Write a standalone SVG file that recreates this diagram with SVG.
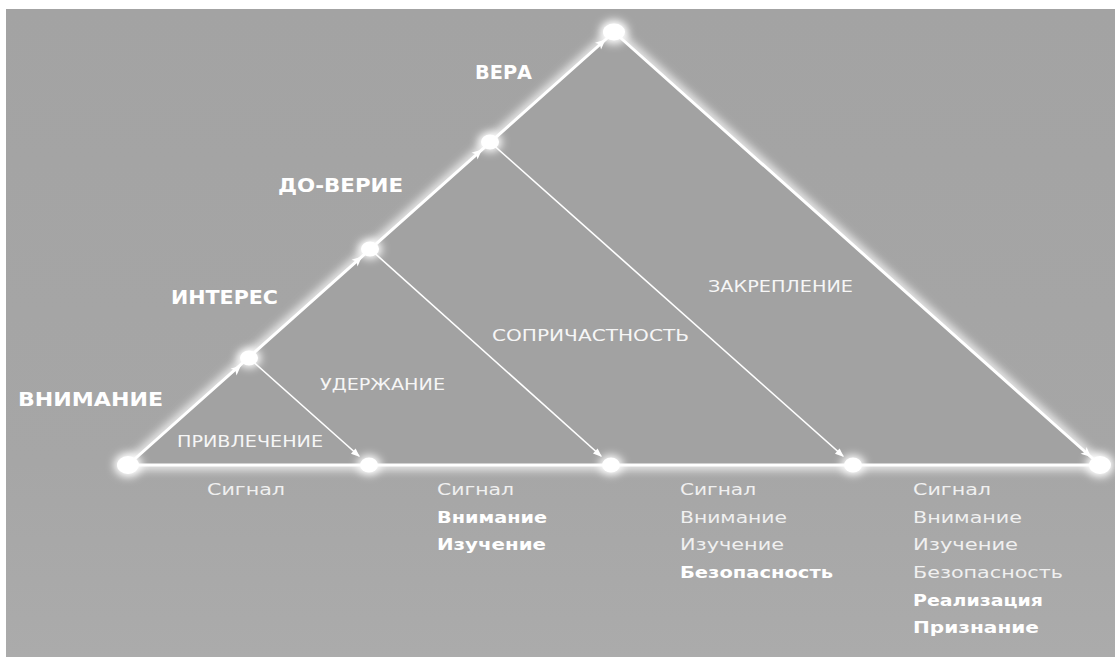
<svg xmlns="http://www.w3.org/2000/svg" xmlns:xlink="http://www.w3.org/1999/xlink" width="1115" height="657" viewBox="0 0 1115 657">
  <defs>
    <linearGradient id="bg" x1="0" y1="0" x2="0" y2="1">
      <stop offset="0" stop-color="#a3a3a3"/>
      <stop offset="0.7" stop-color="#a6a6a6"/>
      <stop offset="1" stop-color="#ababab"/>
    </linearGradient>
    <filter id="glow" x="-20%" y="-20%" width="140%" height="140%">
      <feGaussianBlur stdDeviation="5"/>
    </filter>
    <filter id="dotglow" x="-100%" y="-100%" width="300%" height="300%">
      <feGaussianBlur stdDeviation="4"/>
    </filter>
    <path id="ah" d="M0,0 L-10,-4.5 L-7.5,0 L-10,4.5 Z" fill="#ffffff"/>
    <path id="ahs" d="M0,0 L-9,-3.5 L-9,3.5 Z" fill="#ffffff"/>
    <style>
      .hd { font-family: "DejaVu Sans", "Liberation Sans", sans-serif; font-weight: bold; font-size: 19px; fill: #ffffff; }
      .lb { font-family: "DejaVu Sans", "Liberation Sans", sans-serif; font-size: 16px; fill: #f6f6f6; }
      .it { font-family: "DejaVu Sans", "Liberation Sans", sans-serif; font-size: 16px; fill: #f0f0f0; }
      .itb { font-family: "DejaVu Sans", "Liberation Sans", sans-serif; font-size: 16px; font-weight: bold; fill: #ffffff; }
      .edge { stroke: #ffffff; stroke-width: 3; fill: none; stroke-linecap: round; }
      .thin { stroke: #ffffff; stroke-width: 1.6; fill: none; }
      .dot { fill: #ffffff; }
    </style>
  </defs>

  <rect x="0" y="0" width="1115" height="657" fill="#ffffff"/>
  <rect x="6" y="9" width="1109" height="648" fill="url(#bg)"/>

  <g id="connectors">
    <!-- glow of outer triangle -->
    <polygon points="128,465 614,32 1100,465" fill="none" stroke="#ffffff" stroke-width="9" stroke-linejoin="round" filter="url(#glow)" opacity="0.9"/>
    <!-- inner fill hides inner glow -->
    <polygon points="128,465 614,32 1100,465" fill="#a2a2a2"/>
    <!-- crisp edges -->
    <line class="edge" x1="128" y1="465" x2="614" y2="32"/>
    <line class="edge" x1="614" y1="32" x2="1100" y2="465"/>
    <line class="edge" x1="128" y1="465" x2="1100" y2="465"/>
    <!-- arrowheads along left edge -->
    <use xlink:href="#ah" transform="translate(241,365.5) rotate(-41.7)"/>
    <use xlink:href="#ah" transform="translate(362,256.5) rotate(-41.7)"/>
    <use xlink:href="#ah" transform="translate(482,149.5) rotate(-41.7)"/>
    <use xlink:href="#ah" transform="translate(605.5,39.5) rotate(-41.7)"/>
    <!-- arrowhead on right edge -->
    <use xlink:href="#ah" transform="translate(1091,457) rotate(41.7)"/>
    <!-- thin inner arrows -->
    <line class="thin" x1="249" y1="358" x2="359" y2="456"/>
    <use xlink:href="#ahs" transform="translate(360,457) rotate(41.5)"/>
    <line class="thin" x1="370" y1="249" x2="601" y2="456"/>
    <use xlink:href="#ahs" transform="translate(602,457) rotate(41.8)"/>
    <line class="thin" x1="490" y1="142" x2="843" y2="456"/>
    <use xlink:href="#ahs" transform="translate(844,457) rotate(41.6)"/>
  </g>

  <g id="dots">
    <g id="dot-bl"><ellipse cx="128" cy="465" rx="14" ry="12" class="dot" filter="url(#dotglow)"/><ellipse cx="128" cy="465" rx="11" ry="9" class="dot"/></g>
    <g id="dot-l1"><ellipse cx="249" cy="358" rx="12" ry="10" class="dot" filter="url(#dotglow)"/><ellipse cx="249" cy="358" rx="9" ry="7.5" class="dot"/></g>
    <g id="dot-l2"><ellipse cx="370" cy="249" rx="12" ry="10" class="dot" filter="url(#dotglow)"/><ellipse cx="370" cy="249" rx="9" ry="7.5" class="dot"/></g>
    <g id="dot-l3"><ellipse cx="490" cy="142" rx="12" ry="10" class="dot" filter="url(#dotglow)"/><ellipse cx="490" cy="142" rx="9" ry="7.5" class="dot"/></g>
    <g id="dot-apex"><ellipse cx="614" cy="32" rx="14" ry="12" class="dot" filter="url(#dotglow)"/><ellipse cx="614" cy="32" rx="11" ry="8.5" class="dot"/></g>
    <g id="dot-b1"><ellipse cx="369" cy="465" rx="12" ry="10" class="dot" filter="url(#dotglow)"/><ellipse cx="369" cy="465" rx="9" ry="7.5" class="dot"/></g>
    <g id="dot-b2"><ellipse cx="611" cy="465" rx="12" ry="10" class="dot" filter="url(#dotglow)"/><ellipse cx="611" cy="465" rx="9" ry="7.5" class="dot"/></g>
    <g id="dot-b3"><ellipse cx="853" cy="465" rx="12" ry="10" class="dot" filter="url(#dotglow)"/><ellipse cx="853" cy="465" rx="9" ry="7.5" class="dot"/></g>
    <g id="dot-br"><ellipse cx="1100" cy="465" rx="14" ry="12" class="dot" filter="url(#dotglow)"/><ellipse cx="1100" cy="465" rx="11" ry="9" class="dot"/></g>
  </g>

  <g id="levels">
    <text class="hd" x="475" y="79" textLength="57" lengthAdjust="spacingAndGlyphs">ВЕРА</text>
    <text class="hd" x="278" y="192" textLength="125" lengthAdjust="spacingAndGlyphs">ДО-ВЕРИЕ</text>
    <text class="hd" x="171" y="304" textLength="107" lengthAdjust="spacingAndGlyphs">ИНТЕРЕС</text>
    <text class="hd" x="18" y="406" textLength="145" lengthAdjust="spacingAndGlyphs">ВНИМАНИЕ</text>
  </g>

  <g id="stages">
    <text class="lb" x="177" y="447" textLength="146" lengthAdjust="spacingAndGlyphs">ПРИВЛЕЧЕНИЕ</text>
    <text class="lb" x="320" y="390" textLength="125" lengthAdjust="spacingAndGlyphs">УДЕРЖАНИЕ</text>
    <text class="lb" x="492" y="341" textLength="197" lengthAdjust="spacingAndGlyphs">СОПРИЧАСТНОСТЬ</text>
    <text class="lb" x="708" y="292" textLength="145" lengthAdjust="spacingAndGlyphs">ЗАКРЕПЛЕНИЕ</text>
  </g>

  <g id="col1">
    <text class="it" x="207" y="495" textLength="78" lengthAdjust="spacingAndGlyphs">Сигнал</text>
  </g>
  <g id="col2">
    <text class="it" x="437" y="495" textLength="77" lengthAdjust="spacingAndGlyphs">Сигнал</text>
    <text class="itb" x="437" y="523" textLength="110" lengthAdjust="spacingAndGlyphs">Внимание</text>
    <text class="itb" x="437" y="550" textLength="109" lengthAdjust="spacingAndGlyphs">Изучение</text>
  </g>
  <g id="col3">
    <text class="it" x="680" y="495" textLength="76" lengthAdjust="spacingAndGlyphs">Сигнал</text>
    <text class="it" x="680" y="523" textLength="107" lengthAdjust="spacingAndGlyphs">Внимание</text>
    <text class="it" x="680" y="550" textLength="104" lengthAdjust="spacingAndGlyphs">Изучение</text>
    <text class="itb" x="680" y="578" textLength="153" lengthAdjust="spacingAndGlyphs">Безопасность</text>
  </g>
  <g id="col4">
    <text class="it" x="913" y="495" textLength="78" lengthAdjust="spacingAndGlyphs">Сигнал</text>
    <text class="it" x="913" y="523" textLength="109" lengthAdjust="spacingAndGlyphs">Внимание</text>
    <text class="it" x="913" y="550" textLength="105" lengthAdjust="spacingAndGlyphs">Изучение</text>
    <text class="it" x="913" y="578" textLength="150" lengthAdjust="spacingAndGlyphs">Безопасность</text>
    <text class="itb" x="913" y="606" textLength="130" lengthAdjust="spacingAndGlyphs">Реализация</text>
    <text class="itb" x="913" y="633" textLength="126" lengthAdjust="spacingAndGlyphs">Признание</text>
  </g>
</svg>
